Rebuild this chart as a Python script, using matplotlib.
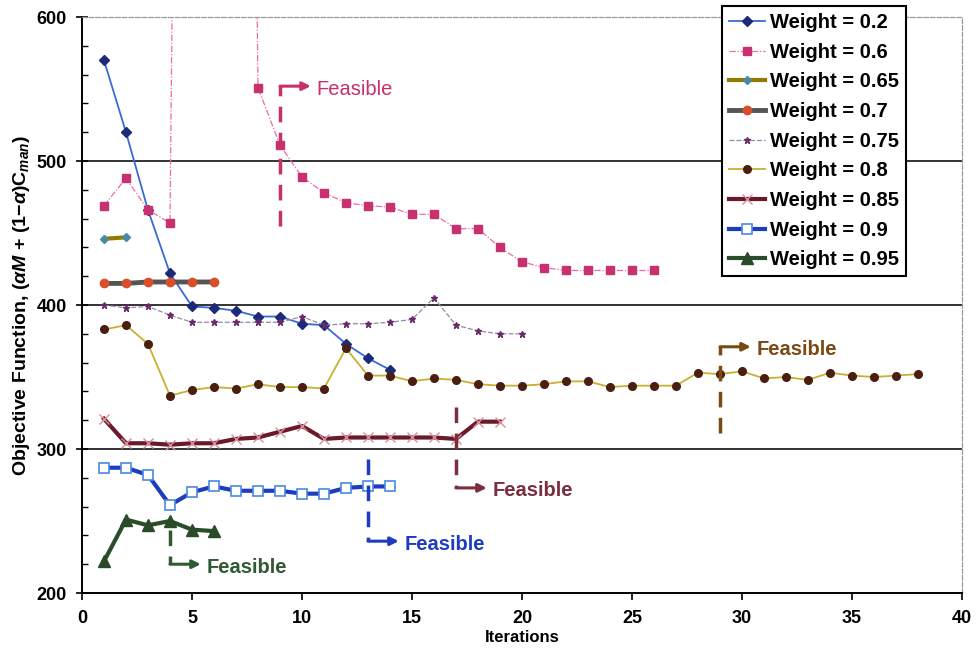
import numpy as np
import matplotlib
matplotlib.use('Agg')
import matplotlib.pyplot as plt
from matplotlib.ticker import MultipleLocator

plt.rcParams['font.family'] = ['Liberation Sans', 'DejaVu Sans']
plt.rcParams['font.weight'] = 'bold'
plt.rcParams['mathtext.fontset'] = 'custom'
plt.rcParams['mathtext.it'] = 'Liberation Sans:italic:bold'
plt.rcParams['mathtext.rm'] = 'Liberation Sans:bold'

# Data (iteration -> objective value)
w02 = [570, 520, 466, 422, 399, 398, 396, 392, 392, 387, 386, 373, 363, 355]
# 0.6 goes off the top of the chart for iterations 5-7
w06 = [469, 488, 466, 457, 2000, 2000, 2000, 551, 511, 489, 478, 471, 469, 468,
       463, 463, 453, 453, 440, 430, 426, 424, 424, 424, 424, 424]
w065 = [446, 447]
w07 = [415, 415, 416, 416, 416, 416]
w075 = [400, 398, 399, 393, 388, 388, 388, 388, 388, 392, 386, 387, 387, 388,
        390, 405, 386, 382, 380, 380]
w08 = [383, 386, 373, 337, 341, 343, 342, 345, 343, 343, 342, 370, 351, 351,
       347, 349, 348, 345, 344, 344, 345, 347, 347, 343, 344, 344, 344, 353,
       352, 354, 349, 350, 348, 353, 351, 350, 351, 352]
w085 = [321, 304, 304, 303, 304, 304, 307, 308, 312, 316, 307, 308, 308, 308,
        308, 308, 307, 319, 319]
w09 = [287, 287, 282, 261, 270, 274, 271, 271, 271, 269, 269, 273, 274, 274]
w095 = [222, 251, 247, 250, 244, 243]

# Feasible markers: iteration, start value, end value, colour
feasible_iter = [9, 13, 4, 17, 29]
feasible_from = [455, 293, 244, 329, 311]
feasible_to = [552, 236, 220, 273, 371]
feasible_color = ['#c8306a', '#1e3cc0', '#2f5a32', '#7a2e3e', '#7a4a12']
feasible_bold = ['normal', 'bold', 'bold', 'bold', 'bold']


def iters(vals):
    return np.arange(1, len(vals) + 1)


fig = plt.figure(figsize=(9.76, 6.6), dpi=100)
ax = fig.add_axes([0.084, 0.1015, 0.9016, 0.8727])

ax.plot(iters(w02), w02, color='#3a6ad8', lw=1.3, marker='D', ms=5,
        mfc='#1c2a7a', mec='#1c2a7a', label='Weight = 0.2')
ax.plot(iters(w06), w06, color='#f06aa8', lw=0.9, ls=(0, (5, 1.5, 1, 1.5)),
        marker='s', ms=6, mfc='#c83070', mec='#c83070', label='Weight = 0.6')
ax.plot(iters(w065), w065, color='#8f7c00', lw=3, marker='D', ms=4,
        mfc='#4a8aa0', mec='#4a8aa0', label='Weight = 0.65')
ax.plot(iters(w07), w07, color='#555555', lw=3.5, marker='o', ms=6,
        mfc='#d8502a', mec='#d8502a', label='Weight = 0.7')
ax.plot(iters(w075), w075, color='#9a88aa', lw=0.9, ls=(0, (4, 1.5)),
        marker='*', ms=5, mfc='#6a2a6a', mec='#6a2a6a', label='Weight = 0.75')
ax.plot(iters(w08), w08, color='#c8b030', lw=1.3, marker='o', ms=5.5,
        mfc='#4a1e10', mec='#4a1e10', label='Weight = 0.8')
ax.plot(iters(w085), w085, color='#6a1a2a', lw=3, marker='x', ms=7,
        mew=1, mec='#d8909a', label='Weight = 0.85')
ax.plot(iters(w09), w09, color='#1e3cc0', lw=3, marker='s', ms=7,
        mfc='white', mec='#4a8ae0', mew=1.2, label='Weight = 0.9')
ax.plot(iters(w095), w095, color='#2a4e2a', lw=3, marker='^', ms=8,
        mfc='#2a4a2a', mec='#2a4a2a', label='Weight = 0.95')

# "Feasible" annotations
for i in range(len(feasible_iter)):
    x = feasible_iter[i]
    y0, y1 = feasible_from[i], feasible_to[i]
    c = feasible_color[i]
    ax.plot([x, x], [y0, y1], color=c, lw=2.5, ls=(0, (4.5, 3)))
    hs = '-.' if i == 0 else '-'
    ax.annotate('', xy=(x + 1.4, y1), xytext=(x, y1),
                arrowprops=dict(arrowstyle='-|>', color=c, lw=2.2, ls=hs,
                                mutation_scale=12, shrinkA=0, shrinkB=0))
    ax.text(x + 1.65, y1 - 2, 'Feasible', color=c, fontsize=14.5,
            fontweight=feasible_bold[i], va='center', ha='left')

ax.set_xlim(0, 40)
ax.set_ylim(200, 600)
ax.xaxis.set_major_locator(MultipleLocator(5))
ax.yaxis.set_major_locator(MultipleLocator(100))
ax.yaxis.set_minor_locator(MultipleLocator(20))
ax.tick_params(axis='x', which='major', direction='out', length=5, width=1.2,
               labelsize=13, pad=7)
ax.tick_params(axis='y', which='major', direction='inout', length=8, width=1.2,
               labelsize=13, pad=7)
ax.tick_params(axis='y', which='minor', direction='in', length=4, width=1)

ax.grid(True, axis='y', color='#333333', lw=1.4)
for val, gl in zip(ax.get_yticks(), ax.get_ygridlines()):
    if val in (200, 600):
        gl.set_visible(False)

ax.spines['left'].set_linewidth(1.4)
ax.spines['bottom'].set_linewidth(1.4)
for side in ['top', 'right']:
    ax.spines[side].set_linestyle('--')
    ax.spines[side].set_color('#9a9a9a')
    ax.spines[side].set_linewidth(0.9)

ax.set_xlabel('Iterations', fontsize=12, fontweight='bold')
ax.xaxis.set_label_coords(0.5, -0.064)
ax.set_ylabel(r'Objective Function, ($\alpha M$ + (1$-\alpha$)C$_{man}$)',
              fontsize=14, fontweight='bold')
ax.yaxis.set_label_coords(-0.057, 0.5)

leg = fig.legend(loc='upper left', bbox_to_anchor=(0.7398, 0.991),
                 fontsize=14.5, frameon=True, fancybox=False, framealpha=1,
                 edgecolor='black', handlelength=1.8, handletextpad=0.25,
                 labelspacing=0.53, borderpad=0.35, borderaxespad=0)
leg.get_frame().set_linewidth(1.5)
for t in leg.get_texts():
    t.set_fontweight('bold')

plt.savefig('out.png', dpi=100)
